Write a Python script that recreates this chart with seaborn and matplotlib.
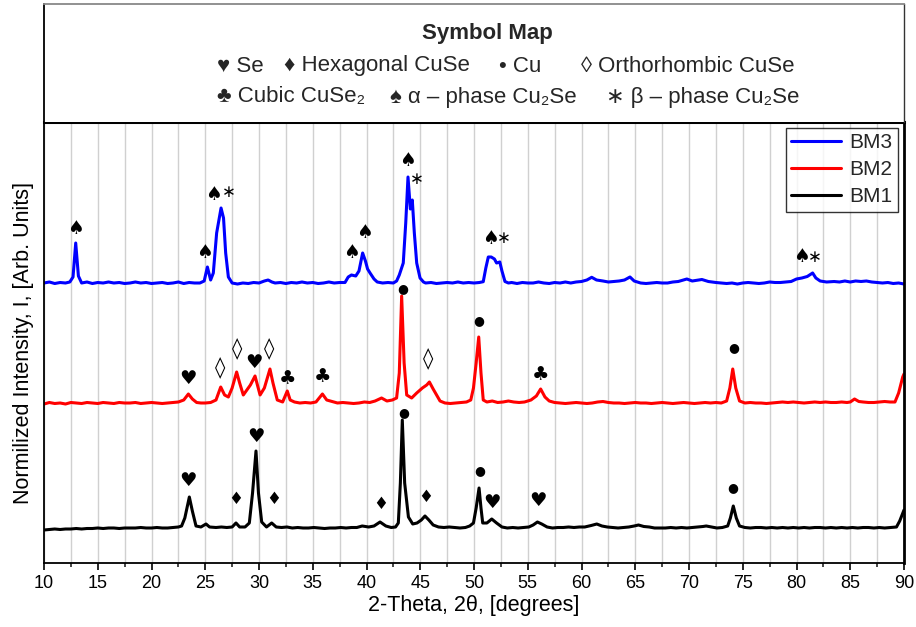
import numpy as np
import pandas as pd
import matplotlib
matplotlib.use("Agg")
import matplotlib.pyplot as plt
from matplotlib.ticker import MultipleLocator
import seaborn as sns

# ---------------- data ----------------
bm3_2theta = [10.0, 10.5, 11.0, 11.5, 12.0, 12.4, 12.7, 12.95, 13.2, 13.5, 14.0, 14.5, 15.0, 15.5, 16.0, 16.5,
              17.0, 17.5, 18.0, 18.5, 19.0, 19.5, 20.0, 20.5, 21.0, 21.5, 22.0, 22.5, 23.0, 23.5, 24.0, 24.5,
              24.9, 25.2, 25.5, 25.75, 26.06, 26.3, 26.47, 26.7, 26.9, 27.15, 27.5, 28.0, 28.5, 29.0, 29.5,
              30.0, 30.5, 30.85, 31.2, 31.5, 32.0, 32.5, 33.0, 33.5, 34.0, 34.5, 35.0, 35.5, 36.0, 36.5, 37.0,
              37.5, 38.0, 38.3, 38.6, 39.0, 39.3, 39.64, 39.9, 40.1, 40.33, 40.7, 41.0, 41.5, 42.0, 42.5, 42.8,
              43.05, 43.42, 43.65, 43.86, 44.0, 44.08, 44.26, 44.45, 44.67, 44.98, 45.3, 45.5, 46.0, 46.5,
              47.0, 47.5, 48.0, 48.5, 49.0, 49.5, 50.0, 50.5, 50.86, 51.1, 51.33, 51.6, 51.9, 52.1, 52.4, 52.6,
              52.88, 53.2, 53.5, 54.0, 54.5, 55.0, 55.5, 56.0, 56.5, 57.0, 57.5, 58.0, 58.5, 59.0, 59.5, 60.0,
              60.5, 60.95, 61.4, 62.0, 62.5, 63.0, 63.5, 64.0, 64.51, 64.9, 65.5, 66.0, 66.5, 67.0, 67.5, 68.0,
              68.5, 69.0, 69.8, 70.3, 71.2, 71.8, 72.5, 73.0, 73.5, 74.0, 74.5, 75.0, 75.5, 76.0, 76.5, 77.0,
              77.5, 78.0, 78.5, 79.0, 79.5, 80.0, 80.5, 81.0, 81.5, 81.8, 82.2, 82.8, 83.5, 84.0, 84.5, 85.0,
              85.5, 86.0, 86.5, 87.0, 87.5, 88.0, 88.5, 89.0, 89.5, 90.0]
bm3_intensity = [280, 281, 279.5, 280.5, 280, 281, 286, 320, 287, 280, 281, 279.5, 280.5, 280, 281, 280,
                 280.5, 279.5, 280, 281, 280, 280.5, 279.5, 280, 280.5, 279.5, 280, 281, 279.5, 280.5, 280, 280,
                 282, 296, 283, 290, 330, 345, 355, 345, 310, 286, 280, 279, 280, 279.5, 280.5,
                 280, 282, 283, 281, 280, 280.5, 279.5, 280.5, 280, 281, 280, 280.5, 279.5, 280, 281, 280,
                 280.5, 280.5, 286, 288, 287, 292, 310, 302, 294, 290, 284, 281, 280, 280.5, 280, 282,
                 288, 300, 340, 386, 365, 354, 363, 330, 300, 285, 281, 280, 280.5, 279.5,
                 280, 280.5, 280, 281, 280, 280.5, 280, 280.5, 281.3, 295, 306, 306, 304, 300, 301, 292,
                 281.5, 280, 280.5, 279.5, 280.5, 280, 280, 281, 280, 279.5, 280.5, 280, 281, 280, 281, 281.5,
                 283, 285.7, 283, 282, 281, 281.5, 282, 283, 286, 282, 280, 279.5, 280, 280.5, 280, 280,
                 281, 281.5, 284, 282, 283.5, 281.5, 280.5, 280, 279.5, 280, 279, 280, 280.5, 280, 279.5, 280,
                 281, 280.5, 280.5, 281, 281.5, 284, 285, 286.5, 290, 285, 282, 281, 281.5, 281, 282, 281,
                 282, 281.5, 282, 281, 280.5, 280, 280.5, 279.5, 280, 279]

bm2_2theta = [10.0, 10.5, 11.0, 11.5, 12.0, 12.5, 13.0, 13.5, 14.0, 14.5, 15.0, 15.5, 16.0, 16.5, 17.0, 17.5,
              18.0, 18.5, 19.0, 19.5, 20.0, 20.5, 21.0, 21.5, 22.0, 22.5, 23.0, 23.43, 23.8, 24.2, 24.6, 25.0,
              25.5, 26.0, 26.44, 26.8, 27.15, 27.5, 27.92, 28.2, 28.54, 29.0, 29.2, 29.63, 29.85, 30.1, 30.5,
              31.02, 31.3, 31.7, 32.2, 32.63, 32.9, 33.3, 33.8, 34.3, 34.8, 35.3, 35.9, 36.3, 36.8, 37.3, 37.8,
              38.3, 38.8, 39.3, 39.8, 40.3, 40.8, 41.4, 41.9, 42.4, 42.8, 43.05, 43.27, 43.5, 43.74, 44.2,
              44.67, 45.2, 45.6, 45.85, 46.2, 46.84, 47.3, 47.8, 48.3, 48.8, 49.3, 49.7, 49.95, 50.2, 50.44,
              50.65, 50.86, 51.2, 51.7, 52.2, 52.7, 53.2, 53.7, 54.2, 54.7, 55.3, 55.8, 56.2, 56.6, 57.0, 57.5,
              58.0, 58.5, 59.0, 59.5, 60.0, 60.5, 61.0, 61.5, 62.0, 62.5, 63.0, 63.5, 64.0, 64.5, 65.0, 65.5,
              66.0, 66.5, 67.0, 67.5, 68.0, 68.5, 69.0, 69.5, 70.0, 70.5, 71.0, 71.5, 72.0, 72.5, 73.0, 73.5,
              73.8, 74.07, 74.35, 74.7, 75.2, 75.7, 76.2, 76.7, 77.2, 77.7, 78.2, 78.7, 79.2, 79.7, 80.2, 80.7,
              81.2, 81.7, 82.2, 82.7, 83.2, 83.7, 84.2, 84.7, 85.0, 85.4, 85.8, 86.2, 86.7, 87.2, 87.7, 88.2,
              88.7, 89.16, 89.5, 89.88, 90.0]
bm2_intensity = [159, 160.5, 159.5, 160, 159, 160.5, 160, 159.5, 160.5, 160, 159.5, 160.5, 160, 159.5, 160.5, 160,
                 160, 160.5, 159.5, 160, 160.5, 160, 159.5, 160, 160.5, 161, 163, 169, 164, 160.5, 160, 160,
                 160.5, 163, 176, 168, 166, 175, 191, 180, 168, 175, 178, 187, 178, 168, 175,
                 194, 180, 163, 161, 172, 163, 161, 160, 160.5, 160, 161, 169, 163, 161.5, 160, 160.5,
                 160, 159.5, 160, 161, 160.5, 162, 165, 162, 163, 165, 190, 267, 200, 168, 165,
                 170, 175, 178, 181, 174, 162, 160, 159.5, 160, 160.5, 161, 163, 175, 200, 226,
                 190, 163, 161, 162, 160.5, 161, 162, 161, 160.5, 161, 163, 167, 174, 166, 162, 160.5,
                 160, 159.5, 160, 160.5, 160, 159.5, 160, 161, 161.5, 160.5, 160, 160, 159.5, 160, 160.5, 160,
                 160, 159.5, 160, 160.5, 160, 159.5, 160, 160.5, 160, 159.5, 160, 160.5, 160, 160.5, 160, 162,
                 175, 194, 175, 162, 160, 160.5, 160, 160, 159.5, 160, 160.5, 161, 160.5, 161, 160.5, 160,
                 160.5, 161, 160.5, 161, 160.5, 160.5, 161, 160.5, 161, 164, 161.5, 161, 160.5, 160.5, 161, 161.5,
                 161, 161, 170, 186, 189]

bm1_2theta = [10.0, 10.5, 11.0, 11.5, 12.0, 12.5, 13.0, 13.5, 14.0, 14.5, 15.0, 15.5, 16.0, 16.5, 17.0, 17.5,
              18.0, 18.5, 19.0, 19.5, 20.0, 20.5, 21.0, 21.5, 22.0, 22.5, 22.8, 23.1, 23.52, 23.8, 24.14, 24.6,
              25.07, 25.4, 26.0, 26.5, 27.0, 27.5, 27.86, 28.2, 28.7, 29.1, 29.4, 29.72, 29.95, 30.25, 30.7,
              31.18, 31.6, 32.1, 32.6, 33.1, 33.6, 34.1, 34.6, 35.1, 35.6, 36.1, 36.6, 37.1, 37.6, 38.1, 38.6,
              39.1, 39.6, 40.2, 40.7, 41.26, 41.8, 42.3, 42.7, 42.96, 43.15, 43.33, 43.55, 43.9, 44.3, 44.7,
              45.1, 45.44, 45.8, 46.2, 46.7, 47.2, 47.7, 48.2, 48.7, 49.2, 49.6, 49.95, 50.2, 50.47, 50.65,
              50.81, 51.2, 51.65, 52.1, 52.6, 53.1, 53.6, 54.1, 54.6, 55.1, 55.5, 55.9, 56.3, 56.8, 57.3, 57.8,
              58.3, 58.8, 59.3, 59.8, 60.3, 60.9, 61.42, 61.9, 62.4, 62.9, 63.4, 63.9, 64.4, 64.9, 65.3, 65.8,
              66.3, 66.8, 67.3, 67.8, 68.3, 68.8, 69.3, 69.8, 70.3, 70.8, 71.3, 71.6, 72.1, 72.6, 73.1, 73.6,
              73.85, 74.12, 74.4, 74.7, 75.2, 75.7, 76.2, 76.7, 77.2, 77.7, 78.2, 78.7, 79.2, 79.7, 80.2, 80.7,
              81.2, 81.7, 82.2, 82.7, 83.2, 83.7, 84.2, 84.7, 85.2, 85.7, 86.2, 86.7, 87.2, 87.7, 88.2, 88.7,
              89.3, 89.6, 90.0]
bm1_intensity = [33, 33.5, 34, 33.5, 34, 34, 34.5, 34, 34.5, 34.5, 35, 34.5, 35, 35, 34.5, 35,
                 35, 35, 35.5, 35, 35, 35.5, 35, 35, 35.5, 36, 37, 45, 66, 52, 37, 36,
                 39, 36, 35.5, 36, 35.5, 36, 40, 36, 36, 40, 70, 112, 70, 41, 36,
                 40, 36, 35.5, 36, 35, 35.5, 35, 35, 35.5, 35, 34.5, 35, 35, 35.5, 35, 35.5,
                 35.5, 37, 36, 37, 41, 37, 35.5, 36, 40, 80, 143, 80, 46, 39, 40,
                 43, 47, 43, 38, 36, 35.5, 36, 35.5, 35, 35.5, 37, 40, 55, 75, 55,
                 40, 40, 44, 40, 36, 35, 35.5, 35, 35.5, 36, 38, 41, 39, 36, 35, 35.5,
                 35.5, 36, 35.5, 36, 36, 37.5, 39, 37, 36, 35.5, 35, 35.5, 36, 37, 38, 36.5,
                 36, 35, 35, 35, 35.5, 35, 35.5, 35, 35.5, 36, 36.5, 37, 36, 35, 35.5, 37,
                 45, 57, 45, 37, 35.5, 35, 35.5, 35.5, 35, 35.5, 35, 35.5, 35, 35.5, 35, 35.5,
                 35, 35.5, 35.5, 35, 35.5, 35, 35.5, 35, 35.5, 35, 35.5, 35.5, 35, 35.5, 35, 35.5,
                 36, 42, 53]

samples = ["BM3", "BM2", "BM1"]
sample_colors = ["#0000ff", "#ff0000", "#000000"]

# phase symbols placed above the peaks: (2theta, height, symbol)
peak_marks = [
    (12.95, 335, "♠"), (24.95, 311, "♠"), (25.75, 369, "♠"), (27.15, 371, "∗"),
    (38.62, 310, "♠"), (39.8, 330, "♠"), (43.83, 402, "♠"), (44.65, 384, "∗"),
    (51.5, 325, "♠"), (52.8, 325, "∗"), (80.43, 306, "♠"), (81.75, 306, "∗"),
    (23.37, 185, "♥"), (26.37, 195, "◊"), (27.93, 214, "◊"), (29.56, 201, "♥"),
    (30.96, 214, "◊"), (32.67, 184, "♣"), (35.93, 186, "♣"), (43.33, 274, "●"),
    (45.75, 204, "◊"), (50.47, 242, "●"), (56.2, 188, "♣"), (74.12, 215, "●"),
    (23.43, 82, "♥"), (27.83, 64, "♦"), (29.72, 126, "♥"), (31.33, 64, "♦"),
    (41.32, 59, "♦"), (43.42, 150, "●"), (45.5, 66, "♦"), (50.56, 92, "●"),
    (51.65, 60, "♥"), (55.93, 62, "♥"), (74.07, 75, "●"),
]

legend_row1 = [("♥ Se", 217), ("♦ Hexagonal CuSe", 284), ("• Cu", 499), ("◊ Orthorhombic CuSe", 581)]
legend_row2 = [("♣ Cubic CuSe₂", 217), ("♠ α – phase Cu₂Se", 390), ("∗ β – phase Cu₂Se", 606)]

x_ticks = list(range(10, 91, 5))

# ---------------- build long table ----------------
frames = []
for name, xs, ys in [("BM3", bm3_2theta, bm3_intensity),
                     ("BM2", bm2_2theta, bm2_intensity),
                     ("BM1", bm1_2theta, bm1_intensity)]:
    frames.append(pd.DataFrame({"two_theta": xs, "intensity": ys, "sample": name}))
df = pd.concat(frames, ignore_index=True)

# ---------------- style ----------------
sns.set_theme(style="white")
plt.rcParams["font.family"] = ["Liberation Sans", "DejaVu Sans"]
plt.rcParams["axes.unicode_minus"] = False

W, H = 916, 627
fig = plt.figure(figsize=(W / 100, H / 100), dpi=100)
L, R, T, B = 44, 904, 122, 563
ax = fig.add_axes([L / W, (H - B) / H, (R - L) / W, (B - T) / H])
hdr = fig.add_axes([L / W, (H - T) / H, (R - L) / W, (T - 4) / H])

sns.lineplot(data=df, x="two_theta", y="intensity", hue="sample", hue_order=samples,
             palette=dict(zip(samples, sample_colors)), estimator=None, sort=False,
             linewidth=2.2, ax=ax)

ax.set_xlim(10, 90)
ax.set_ylim(0, B - T)
ax.set_xticks(x_ticks)
ax.xaxis.set_minor_locator(MultipleLocator(2.5))
ax.set_yticks([])
ax.grid(True, which="both", axis="x", color="#d0d0d0", linewidth=1.0)
ax.set_axisbelow(True)
ax.tick_params(axis="x", which="major", direction="out", length=5, width=1.2,
               labelsize=13, colors="black", pad=4, bottom=True)
ax.tick_params(axis="x", which="minor", direction="out", length=3, width=1.2, bottom=True)
for s in ax.spines.values():
    s.set_color("black")
    s.set_linewidth(1.3)
ax.spines["top"].set_linewidth(2.2)
ax.spines["right"].set_linewidth(2.0)
ax.set_xlabel("2-Theta, 2θ, [degrees]", fontsize=15.5, color="black", labelpad=2)
ax.set_ylabel("Normilized Intensity, I, [Arb. Units]", fontsize=15.5, color="black", labelpad=7.5)

sym_size = {"♠": 13.5, "♥": 14, "♦": 12, "◊": 15, "♣": 14, "●": 9, "∗": 12}
for x, y, s in peak_marks:
    ax.text(x, y, s, ha="center", va="center", fontsize=sym_size[s],
            family=["DejaVu Sans"], color="black")

handles, labels = ax.get_legend_handles_labels()
leg = ax.legend(handles, labels, loc="upper right", fontsize=15, frameon=True,
                fancybox=False, edgecolor="black", handlelength=2.4, handletextpad=0.4,
                labelspacing=0.38, borderpad=0.25, borderaxespad=0.3)
leg.get_frame().set_linewidth(1.0)
for line in leg.get_lines():
    line.set_linewidth(2.2)

# header ("Symbol Map")
hdr.set_xticks([])
hdr.set_yticks([])
hdr.set_xlim(0, 1)
hdr.set_ylim(0, 1)
for k, s in hdr.spines.items():
    s.set_color("black")
    s.set_linewidth(1.3)
hdr.spines["top"].set_color("#888888")
hdr.spines["bottom"].set_visible(False)
hdr.spines["right"].set_color("#333333")
hdr.spines["right"].set_linewidth(1.0)


def fx(px):
    return px / W


def fy(py):
    return 1 - py / H


fig.text(fx(487), fy(33), "Symbol Map", ha="center", va="center", fontsize=16, fontweight="bold")
for txt, px in legend_row1:
    fig.text(fx(px), fy(66), txt, ha="left", va="center", fontsize=16)
for txt, px in legend_row2:
    fig.text(fx(px), fy(97), txt, ha="left", va="center", fontsize=16)

fig.savefig("out.png", dpi=100)
